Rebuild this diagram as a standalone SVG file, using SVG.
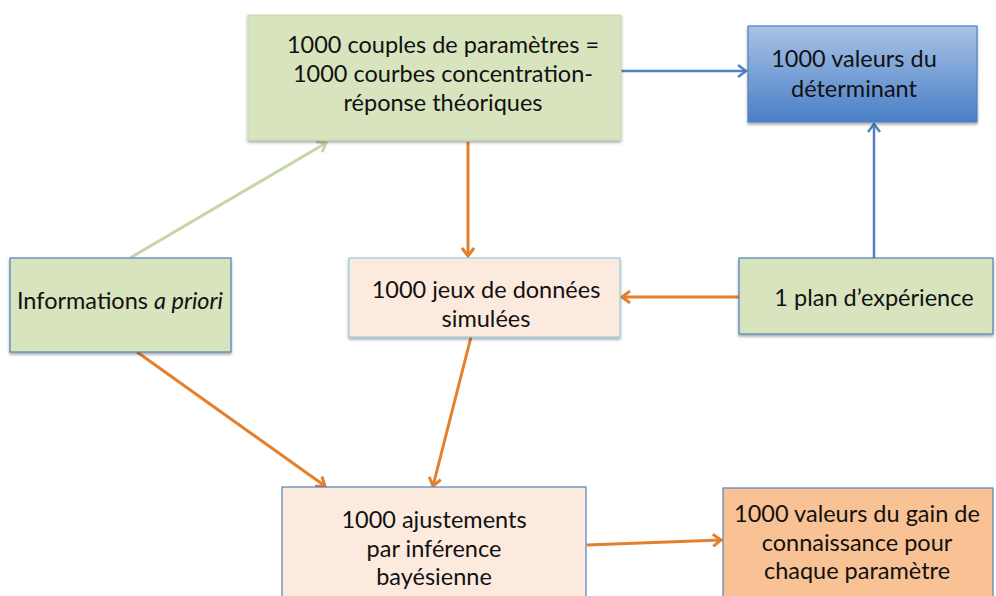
<svg xmlns="http://www.w3.org/2000/svg" width="996" height="596" viewBox="0 0 996 596">
<style>
text{font-family:Lato,"Open Sans","Liberation Sans",sans-serif;font-size:23.5px;fill:#111;text-anchor:middle}
.c{fill:none;stroke-width:3}
.o{stroke:#e57f2c}
.b{stroke:#4f81bd;stroke-width:2.5}
.g{stroke:#c4d7a4}
</style>
<defs>
<linearGradient id="blue" x1="0" y1="0" x2="0" y2="1">
<stop offset="0" stop-color="#a8c3e6"/>
<stop offset="1" stop-color="#4a7ec6"/>
</linearGradient>
<filter id="sh" x="-5%" y="-5%" width="110%" height="120%">
<feDropShadow dx="0" dy="2" stdDeviation="1.5" flood-color="#000" flood-opacity="0.35"/>
</filter>
<marker id="ao" markerWidth="14" markerHeight="14" refX="10" refY="7" orient="auto" markerUnits="userSpaceOnUse">
<path d="M2,1 L10,7 L2,13" fill="none" stroke="#e57f2c" stroke-width="3"/>
</marker>
<marker id="ab" markerWidth="14" markerHeight="14" refX="10" refY="7" orient="auto" markerUnits="userSpaceOnUse">
<path d="M2,1 L10,7 L2,13" fill="none" stroke="#4f81bd" stroke-width="2.5"/>
</marker>
<marker id="ag" markerWidth="14" markerHeight="14" refX="10" refY="7" orient="auto" markerUnits="userSpaceOnUse">
<path d="M2,1 L10,7 L2,13" fill="none" stroke="#c4d7a4" stroke-width="3"/>
</marker>
</defs>
<rect width="996" height="596" fill="#fff"/>
<g id="connectors">
<line class="c b" x1="621" y1="71" x2="746" y2="71" marker-end="url(#ab)"/>
<line class="c b" x1="874" y1="258" x2="874" y2="124" marker-end="url(#ab)"/>
<line class="c g" x1="130" y1="258" x2="326" y2="143" marker-end="url(#ag)"/>
<line class="c o" x1="468" y1="142" x2="468" y2="256" marker-end="url(#ao)"/>
<line class="c o" x1="739" y1="297" x2="622" y2="297" marker-end="url(#ao)"/>
<line class="c o" x1="137" y1="352" x2="325" y2="486" marker-end="url(#ao)"/>
<line class="c o" x1="471" y1="337" x2="433" y2="486" marker-end="url(#ao)"/>
<line class="c o" x1="587" y1="545" x2="721" y2="540" marker-end="url(#ao)"/>
</g>
<g id="n-couples">
<rect x="248" y="15" width="373" height="125" fill="#d7e4bd" stroke="#c9d6b0" stroke-width="1" filter="url(#sh)"/>
<text x="443" y="53">1000 couples de paramètres =</text>
<text x="443" y="82">1000 courbes concentration-</text>
<text x="443" y="111">réponse théoriques</text>
</g>
<g id="n-determinant">
<rect x="748" y="26" width="229" height="96" fill="url(#blue)" stroke="#4f81bd" stroke-width="1.2" filter="url(#sh)"/>
<text x="854" y="67">1000 valeurs du</text>
<text x="854" y="97">déterminant</text>
</g>
<g id="n-informations">
<rect x="10" y="258" width="221" height="94" fill="#d7e4bd" stroke="#4f81bd" stroke-width="1.2" filter="url(#sh)"/>
<text x="120" y="309">Informations <tspan font-style="italic">a priori</tspan></text>
</g>
<g id="n-jeux">
<rect x="349" y="258" width="271" height="79" fill="#fdeadf" stroke="#93cddd" stroke-width="1.2" filter="url(#sh)"/>
<text x="486" y="298">1000 jeux de données</text>
<text x="486" y="327">simulées</text>
</g>
<g id="n-plan">
<rect x="739" y="258" width="254" height="76" fill="#d7e4bd" stroke="#4f81bd" stroke-width="1.2" filter="url(#sh)"/>
<text x="874" y="306">1 plan d’expérience</text>
</g>
<g id="n-ajustements">
<rect x="282" y="487" width="304" height="120" fill="#fdeadf" stroke="#4f81bd" stroke-width="1.2"/>
<text x="434" y="528">1000 ajustements</text>
<text x="434" y="557">par inférence</text>
<text x="434" y="585">bayésienne</text>
</g>
<g id="n-gain">
<rect x="723" y="488" width="270" height="120" fill="#f9c294" stroke="#4f81bd" stroke-width="1.2"/>
<text x="857" y="522">1000 valeurs du gain de</text>
<text x="857" y="551">connaissance pour</text>
<text x="857" y="579">chaque paramètre</text>
</g>
</svg>
